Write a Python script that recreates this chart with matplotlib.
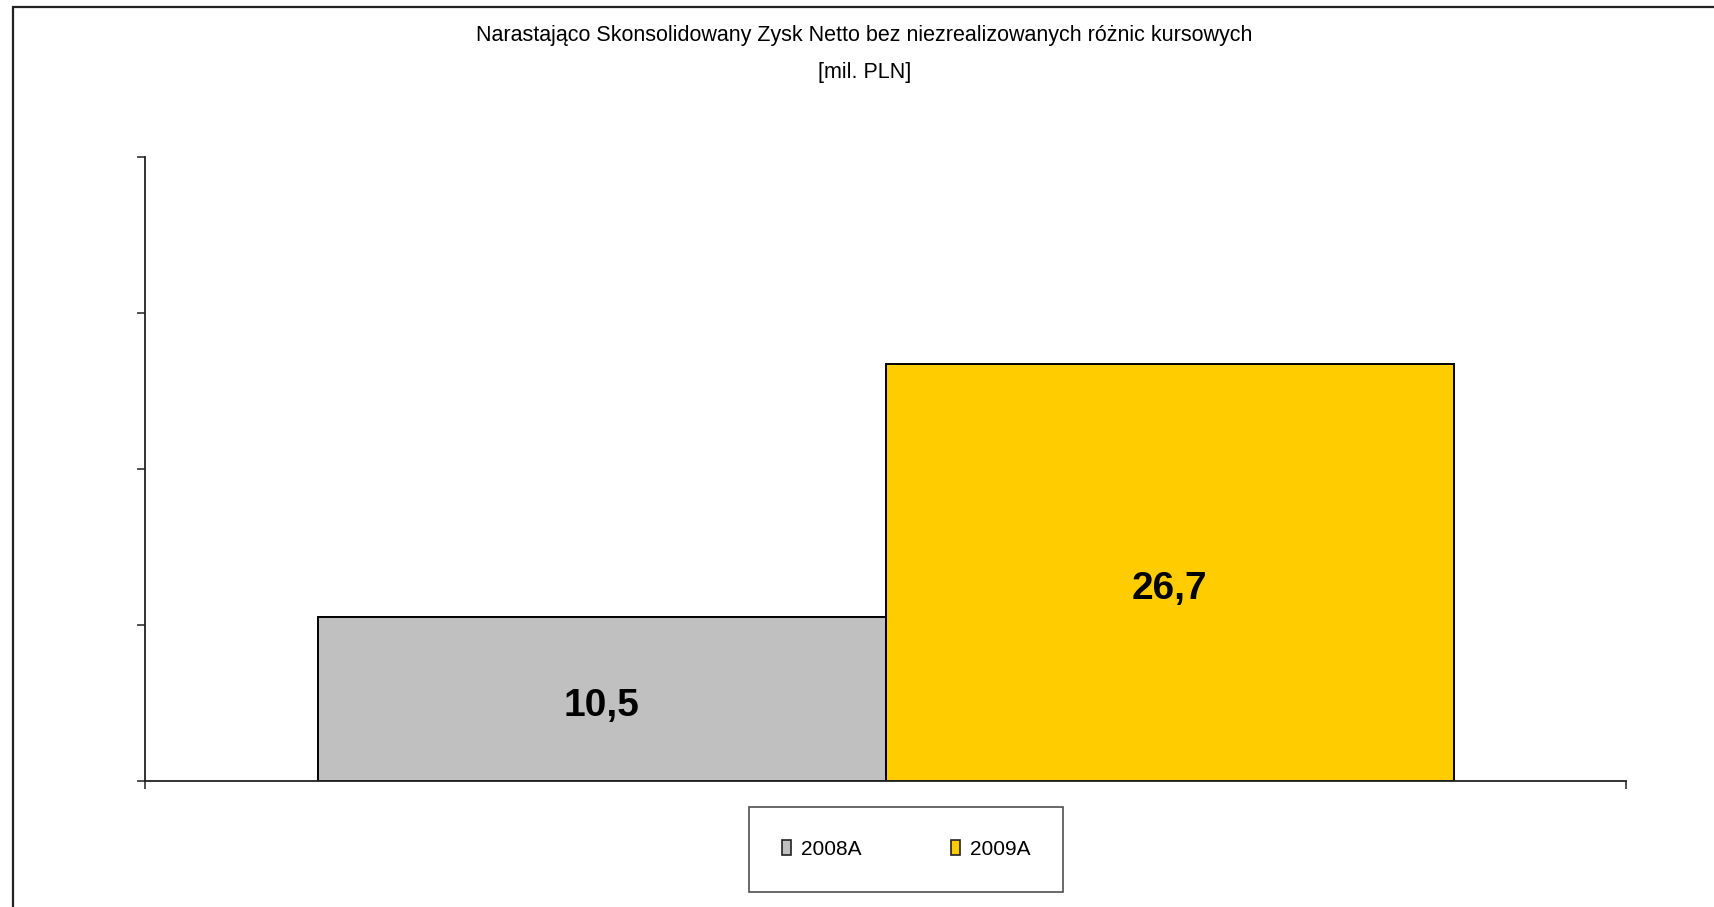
import matplotlib
matplotlib.use('Agg')
import matplotlib.pyplot as plt
from matplotlib.patches import Rectangle

series = ['2008A', '2009A']
values = [10.5, 26.7]
labels = ['10,5', '26,7']
colors = ['#C0C0C0', '#FFCC00']
title = 'Narastająco Skonsolidowany Zysk Netto bez niezrealizowanych różnic kursowych\n[mil. PLN]'

narrow = ['Liberation Sans Narrow', 'Liberation Sans', 'DejaVu Sans']

fig = plt.figure(figsize=(17.15, 9.07), dpi=100)
W, H = 1715., 907.

# outer chart frame (only top and left show in the picture)
fig.patches.append(Rectangle((13/W, -0.05), 1.1, 1 - 7/H + 0.05, transform=fig.transFigure,
                             fill=False, edgecolor='#222222', lw=1.6))

ax = fig.add_axes([145.5/W, 126/H, (1626-145.5)/W, (781-156.5)/H])

xpos = [-0.5, 0.5]
bars = ax.bar(xpos, values, width=1.0, color=colors, edgecolor='black', linewidth=1.4,
              label=series)

for b, lab in zip(bars, labels):
    ax.text(b.get_x() + b.get_width()/2, b.get_height()*0.46, lab,
            ha='center', va='center', fontsize=28, fontweight='bold', family=narrow)

ax.set_xlim(-1.3035, 1.3035)
ax.set_ylim(0, 40)
ax.set_yticks([0, 10, 20, 30, 40])
ax.set_yticklabels([])
ax.set_xticks([-1.3035, 1.3035])
ax.set_xticklabels([])
ax.tick_params(direction='out', length=6, width=1.1, color='#222222')
for s in ['top', 'right']:
    ax.spines[s].set_visible(False)
for s in ['left', 'bottom']:
    ax.spines[s].set_color('#222222')
    ax.spines[s].set_linewidth(1.3)

fig.text(0.504, 1 - 54/H, title, ha='center', va='center', fontsize=15.5,
         family=narrow, linespacing=2.0)

handles = [Rectangle((0, 0), 1, 1, facecolor=c, edgecolor='#222222', lw=1.2) for c in colors]
leg = fig.legend(handles, series, loc='center', bbox_to_anchor=(906/W, 1 - 849.5/H),
                 ncol=2, frameon=True, fancybox=False, prop={'family': narrow, 'size': 15},
                 handlelength=0.45, handleheight=0.7, handletextpad=0.45, columnspacing=4.3,
                 borderpad=1.6, borderaxespad=0)
leg.get_frame().set_edgecolor('#222222')
leg.get_frame().set_linewidth(1.2)

fig.savefig('out.png', dpi=100)
